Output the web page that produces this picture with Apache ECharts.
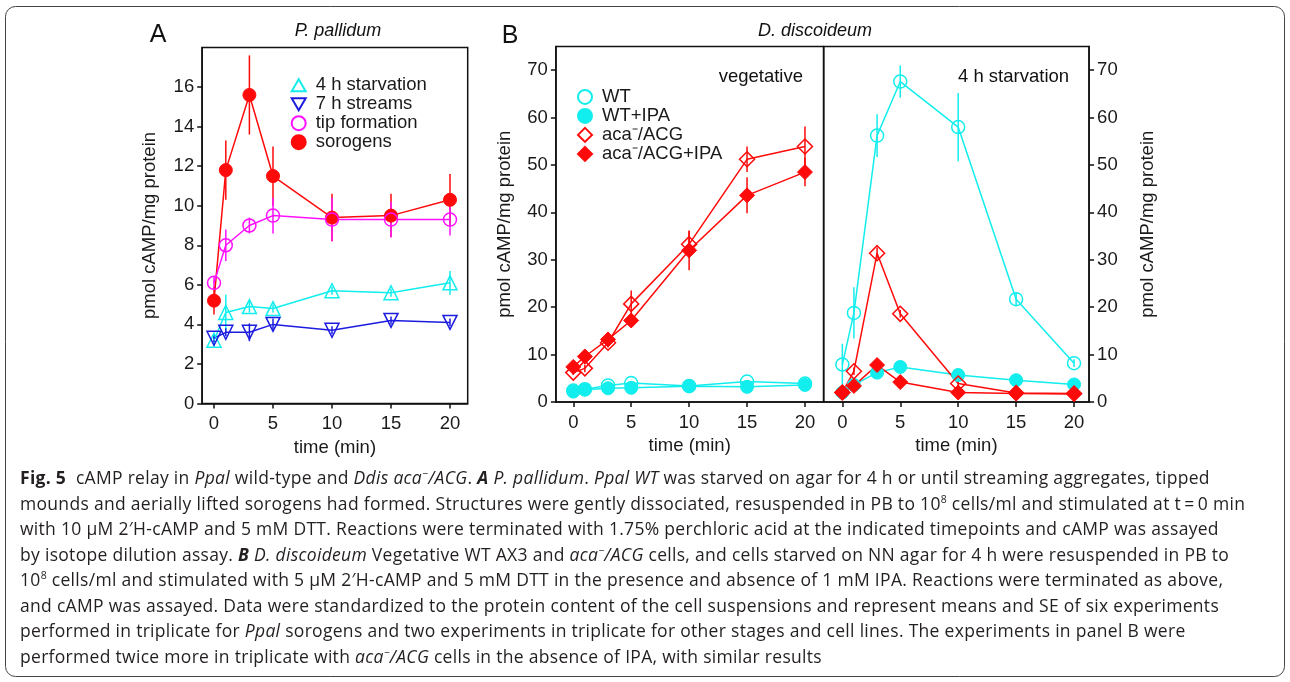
<!DOCTYPE html>
<html>
<head>
<meta charset="utf-8">
<script src="https://cdn.jsdelivr.net/npm/echarts@6/dist/echarts.min.js"></script>
<style>
html,body{margin:0;padding:0;background:#fff;}
#wrap{position:relative;width:1290px;height:682px;overflow:hidden;}
#chart{position:absolute;left:0;top:0;width:1290px;height:682px;}
#cap{position:absolute;left:20px;top:465px;font-family:"Open Sans","Noto Sans",sans-serif;font-size:17.5px;letter-spacing:0.3px;line-height:25.5px;color:#231f20;white-space:nowrap;}
#cap sup{font-size:0.6em;line-height:0;vertical-align:0.7em;}
</style>
</head>
<body>
<div id="wrap">
<div id="chart"></div>
<div id="cap">
<div><b>Fig. 5</b>&nbsp; cAMP relay in <i>Ppal</i> wild-type and <i>Ddis aca<sup>−</sup>/ACG</i>. <b><i>A</i></b> <i>P. pallidum</i>. <i>Ppal WT</i> was starved on agar for 4 h or until streaming aggregates, tipped</div>
<div>mounds and aerially lifted sorogens had formed. Structures were gently dissociated, resuspended in PB to 10<sup>8</sup> cells/ml and stimulated at t&#8201;=&#8201;0 min</div>
<div>with 10 μM 2′H-cAMP and 5 mM DTT. Reactions were terminated with 1.75% perchloric acid at the indicated timepoints and cAMP was assayed</div>
<div>by isotope dilution assay. <b><i>B</i></b> <i>D. discoideum</i> Vegetative WT AX3 and <i>aca<sup>−</sup>/ACG</i> cells, and cells starved on NN agar for 4 h were resuspended in PB to</div>
<div>10<sup>8</sup> cells/ml and stimulated with 5 μM 2′H-cAMP and 5 mM DTT in the presence and absence of 1 mM IPA. Reactions were terminated as above,</div>
<div>and cAMP was assayed. Data were standardized to the protein content of the cell suspensions and represent means and SE of six experiments</div>
<div>performed in triplicate for <i>Ppal</i> sorogens and two experiments in triplicate for other stages and cell lines. The experiments in panel B were</div>
<div>performed twice more in triplicate with <i>aca<sup>−</sup>/ACG</i> cells in the absence of IPA, with similar results</div>
</div>
</div>
<script>
// ---- data ----
const times = [0, 1, 3, 5, 10, 15, 20];
const xTicks = [0, 5, 10, 15, 20];
const yTicksA = [0, 2, 4, 6, 8, 10, 12, 14, 16];
const yTicksB = [0, 10, 20, 30, 40, 50, 60, 70];

// Panel A: P. pallidum
const starv4h      = [3.2, 4.6, 4.9, 4.8, 5.7, 5.6, 6.1];
const starv4hErr   = [0.3, 0.9, 0.3, 0.2, 0.2, 0.2, 0.6];
const streams7h    = [3.3, 3.6, 3.6, 4.0, 3.7, 4.2, 4.1];
const streams7hErr = [0.2, 0.2, 0.45, 0.3, 0.2, 0.2, 0.2];
const tipForm      = [6.1, 8.0, 9.0, 9.5, 9.3, 9.3, 9.3];
const tipFormErr   = [0.3, 0.8, 0.4, 0.9, 1.1, 0.9, 0.8];
const sorogens     = [5.2, 11.8, 15.6, 11.5, 9.4, 9.5, 10.3];
const sorogensErr  = [0.7, 1.5, 2.0, 1.5, 1.2, 1.1, 1.3];

// Panel B vegetative
const wtVeg        = [2.4, 2.7, 3.5, 4.0, 3.4, 4.3, 3.9];
const wtVegErr     = [0.3, 0.3, 0.3, 0.3, 0.3, 0.3, 0.3];
const wtIpaVeg     = [2.2, 2.6, 2.9, 3.0, 3.3, 3.2, 3.6];
const wtIpaVegErr  = [0.3, 0.3, 0.3, 0.3, 0.3, 0.3, 0.3];
const acaVeg       = [6.2, 7.1, 12.5, 20.7, 33.3, 51.2, 53.9];
const acaVegErr    = [0.5, 0.8, 1.0, 2.8, 2.8, 2.7, 4.2];
const acaIpaVeg    = [7.4, 9.6, 13.2, 17.2, 32.0, 43.6, 48.5];
const acaIpaVegErr = [0.6, 0.8, 1.0, 1.2, 4.2, 3.8, 3.0];

// Panel B 4 h starvation
const wtSt         = [7.9, 18.8, 56.2, 67.6, 58.0, 21.7, 8.2];
const wtStErr      = [4.4, 5.4, 4.5, 3.4, 7.2, 1.5, 0.8];
const wtIpaSt      = [2.0, 3.6, 6.2, 7.4, 5.7, 4.6, 3.7];
const wtIpaStErr   = [0.3, 0.3, 0.4, 0.4, 0.3, 0.3, 0.3];
const acaSt        = [2.0, 6.5, 31.4, 18.6, 3.9, 1.9, 1.8];
const acaStErr     = [0.3, 0.8, 1.2, 0.8, 0.6, 0.3, 0.3];
const acaIpaSt     = [2.0, 3.4, 7.8, 4.2, 2.0, 1.8, 1.7];
const acaIpaStErr  = [0.3, 0.3, 0.5, 0.3, 0.3, 0.3, 0.3];

// ---- styles ----
const FONT = '"Liberation Sans", Arial, sans-serif';
const FS = 18.5;
const TXT = '#1a1a1a';
const CYAN = '#12eded', BLUE = '#1c1ce0', MAG = '#ff10ff', RED = '#ff0a0a';
const DOWN_TRI = 'path://M0,0L10,0L5,8.66Z';
const UP_TRI = 'path://M5,0L10,8.66L0,8.66Z';

function lineSeries(name, idx, vals, color, symbol, filled, size) {
  return {
    type: 'line', name: name, xAxisIndex: idx, yAxisIndex: idx,
    data: times.map((t, i) => [t, vals[i]]),
    symbol: symbol, symbolSize: size, showSymbol: true,
    lineStyle: { color: color, width: 1.5 },
    itemStyle: filled ? { color: color, borderColor: color, borderWidth: 1 }
                      : { color: 'rgba(255,255,255,0)', borderColor: color, borderWidth: 1.5 },
    emphasis: { disabled: true }, z: 3, silent: true, animation: false
  };
}
function errSeries(name, idx, vals, errs, color) {
  return {
    type: 'custom', name: name + ' err', xAxisIndex: idx, yAxisIndex: idx,
    data: times.map((t, i) => [t, vals[i] - errs[i], vals[i] + errs[i]]),
    renderItem: function (params, api) {
      const p1 = api.coord([api.value(0), api.value(1)]);
      const p2 = api.coord([api.value(0), api.value(2)]);
      return { type: 'line', shape: { x1: p1[0], y1: p1[1], x2: p2[0], y2: p2[1] },
               style: { stroke: color, lineWidth: 1.5 } };
    },
    z: 2, silent: true, animation: false
  };
}
function xAx(idx, min, max) {
  return {
    type: 'value', gridIndex: idx, min: min, max: max,
    name: 'time (min)', nameLocation: 'middle', nameGap: 34,
    nameTextStyle: { fontFamily: FONT, fontSize: FS, color: TXT },
    axisLine: { show: true, onZero: false, lineStyle: { color: '#111', width: 1.5 } },
    axisTick: { show: true, inside: false, length: 5, lineStyle: { color: '#111', width: 1.5 }, customValues: xTicks },
    axisLabel: { fontFamily: FONT, fontSize: FS, color: TXT, margin: 11, customValues: xTicks },
    splitLine: { show: false }
  };
}
function yAx(idx, max, ticks, pos, gap) {
  return {
    type: 'value', gridIndex: idx, min: 0, max: max, position: pos,
    name: 'pmol cAMP/mg protein', nameLocation: 'middle', nameRotate: 90, nameGap: gap,
    nameTextStyle: { fontFamily: FONT, fontSize: FS, color: TXT },
    axisLine: { show: true, onZero: false, lineStyle: { color: '#111', width: 1.5 } },
    axisTick: { show: true, inside: false, length: 5, lineStyle: { color: '#111', width: 1.5 }, customValues: ticks },
    axisLabel: { fontFamily: FONT, fontSize: FS, color: TXT, margin: 8, customValues: ticks },
    splitLine: { show: false }
  };
}
const gridStyle = { show: true, borderColor: '#111', borderWidth: 1.5, backgroundColor: 'transparent' };

const chart = echarts.init(document.getElementById('chart'), null, { renderer: 'canvas' });
const legendText = { fontFamily: FONT, fontSize: FS, lineHeight: 18.6, color: TXT, padding: [0, 0, 0, 5] };

chart.setOption({
  animation: false,
  backgroundColor: '#fff',
  grid: [
    Object.assign({ left: 202.2, top: 47.5, width: 265.5, height: 356 }, gridStyle),
    Object.assign({ left: 555.9, top: 46.5, width: 267.6, height: 355.5 }, gridStyle),
    Object.assign({ left: 823.8, top: 46.5, width: 265.3, height: 355.5 }, gridStyle)
  ],
  xAxis: [xAx(0, -1, 21.5), xAx(1, -1.5, 21.6), xAx(2, -1.6, 21.3)],
  yAxis: [yAx(0, 18, yTicksA, 'left', 43), yAx(1, 75, yTicksB, 'left', 41), yAx(2, 75, yTicksB, 'right', 49)],
  legend: [
    {
      orient: 'vertical', left: 290.7, top: 75.7, padding: 0, itemWidth: 14, itemHeight: 14, itemGap: 0,
      selectedMode: false, textStyle: legendText,
      data: [
        { name: '4 h starvation', icon: UP_TRI },
        { name: '7 h streams', icon: DOWN_TRI },
        { name: 'tip formation', icon: 'circle' },
        { name: 'sorogens', icon: 'circle' }
      ]
    },
    {
      orient: 'vertical', left: 577, top: 87.4, padding: 0, itemWidth: 14, itemHeight: 14, itemGap: 0,
      selectedMode: false, textStyle: legendText,
      data: [
        { name: 'WT', icon: 'circle' },
        { name: 'WT+IPA', icon: 'circle' },
        { name: 'aca⁻/ACG', icon: 'diamond' },
        { name: 'aca⁻/ACG+IPA', icon: 'diamond' }
      ]
    }
  ],
  graphic: [
    { type: 'rect', shape: { x: 5.5, y: 6.5, width: 1279, height: 670, r: 10 }, style: { fill: 'none', stroke: '#444', lineWidth: 1 }, silent: true },
    { type: 'text', x: 158, y: 35, style: { text: 'A', font: '25px ' + FONT, fill: '#111', align: 'center', verticalAlign: 'middle' } },
    { type: 'text', x: 338, y: 31, style: { text: 'P. pallidum', font: 'italic 18px ' + FONT, fill: '#111', align: 'center', verticalAlign: 'middle' } },
    { type: 'text', x: 510, y: 36, style: { text: 'B', font: '25px ' + FONT, fill: '#111', align: 'center', verticalAlign: 'middle' } },
    { type: 'text', x: 815, y: 31, style: { text: 'D. discoideum', font: 'italic 18px ' + FONT, fill: '#111', align: 'center', verticalAlign: 'middle' } },
    { type: 'text', x: 803, y: 77, style: { text: 'vegetative', font: FS + 'px ' + FONT, fill: '#111', align: 'right', verticalAlign: 'middle' } },
    { type: 'text', x: 958, y: 77, style: { text: '4 h starvation', font: FS + 'px ' + FONT, fill: '#111', align: 'left', verticalAlign: 'middle' } }
  ],
  series: [
    // Panel A
    errSeries('4 h starvation', 0, starv4h, starv4hErr, CYAN),
    errSeries('7 h streams', 0, streams7h, streams7hErr, BLUE),
    errSeries('sorogens', 0, sorogens, sorogensErr, RED),
    errSeries('tip formation', 0, tipForm, tipFormErr, MAG),
    lineSeries('4 h starvation', 0, starv4h, CYAN, UP_TRI, false, 14),
    lineSeries('7 h streams', 0, streams7h, BLUE, DOWN_TRI, false, 14),
    lineSeries('sorogens', 0, sorogens, RED, 'circle', true, 13),
    lineSeries('tip formation', 0, tipForm, MAG, 'circle', false, 13),
    // Panel B vegetative
    errSeries('WT v', 1, wtVeg, wtVegErr, CYAN),
    errSeries('WT+IPA v', 1, wtIpaVeg, wtIpaVegErr, CYAN),
    errSeries('aca v', 1, acaVeg, acaVegErr, RED),
    errSeries('aca+IPA v', 1, acaIpaVeg, acaIpaVegErr, RED),
    lineSeries('WT', 1, wtVeg, CYAN, 'circle', false, 13),
    lineSeries('WT+IPA', 1, wtIpaVeg, CYAN, 'circle', true, 13),
    lineSeries('aca⁻/ACG', 1, acaVeg, RED, 'diamond', false, 15),
    lineSeries('aca⁻/ACG+IPA', 1, acaIpaVeg, RED, 'diamond', true, 15),
    // Panel B 4 h starvation
    errSeries('WT s', 2, wtSt, wtStErr, CYAN),
    errSeries('WT+IPA s', 2, wtIpaSt, wtIpaStErr, CYAN),
    errSeries('aca s', 2, acaSt, acaStErr, RED),
    errSeries('aca+IPA s', 2, acaIpaSt, acaIpaStErr, RED),
    lineSeries('WT', 2, wtSt, CYAN, 'circle', false, 13),
    lineSeries('WT+IPA', 2, wtIpaSt, CYAN, 'circle', true, 13),
    lineSeries('aca⁻/ACG', 2, acaSt, RED, 'diamond', false, 15),
    lineSeries('aca⁻/ACG+IPA', 2, acaIpaSt, RED, 'diamond', true, 15)
  ]
});
</script>
</body>
</html>
